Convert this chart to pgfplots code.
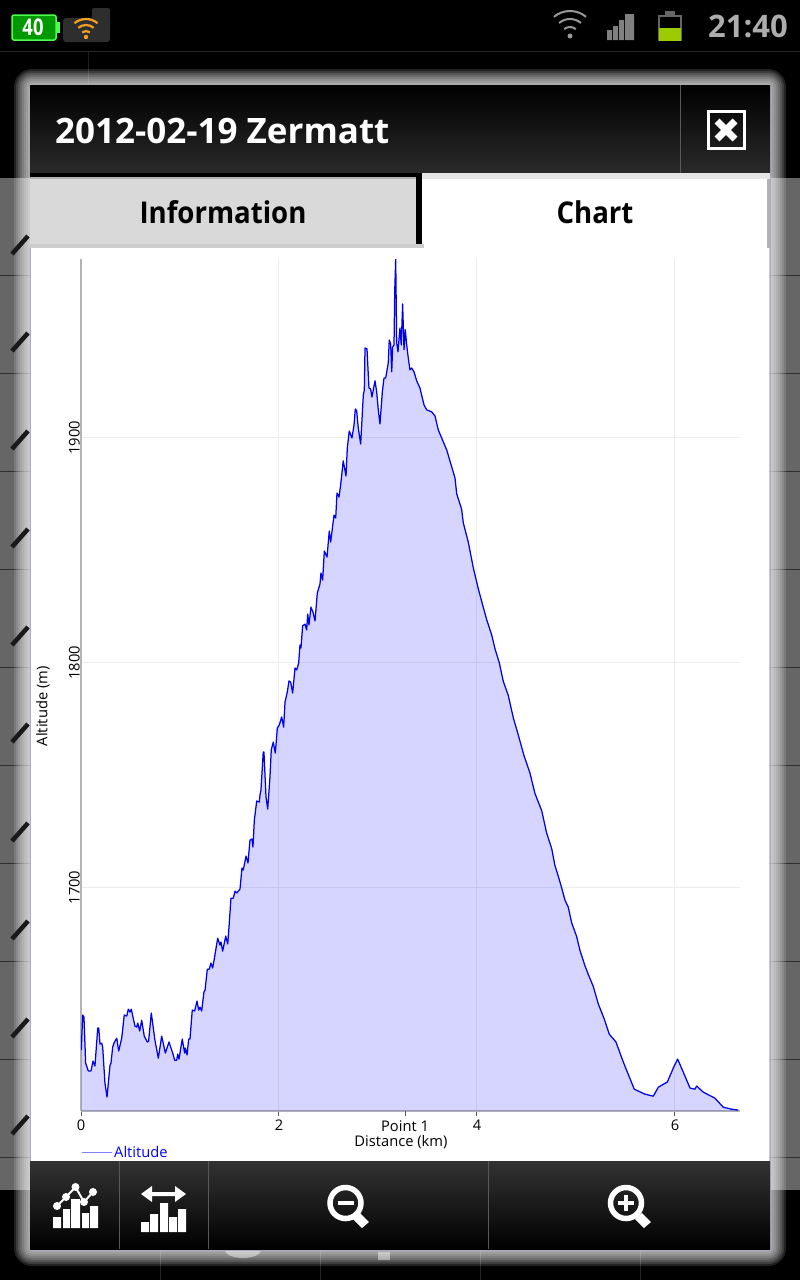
\documentclass[border=0pt]{standalone}
\usepackage{fontspec}
\setmainfont{Open Sans}
\usepackage{pgfplots}
\usepackage{pgfplotstable}
\pgfplotsset{compat=1.18}
\definecolor{axisgray}{HTML}{B4B4B4}
\definecolor{gridgray}{HTML}{EDEDED}
\definecolor{dimbg}{HTML}{666666}
\definecolor{dlgborder}{HTML}{A9ABC4}
\definecolor{lime}{HTML}{9CCB00}
\definecolor{wifiorange}{HTML}{F5A020}
\pgfplotstableread{
km alt
0.003 1627.7
0.017 1643.3
0.030 1642.4
0.047 1621.9
0.074 1618.4
0.101 1618.4
0.121 1622.8
0.141 1620.6
0.169 1637.5
0.179 1637.5
0.192 1630.4
0.209 1630.8
0.219 1629.0
0.242 1613.0
0.263 1606.8
0.276 1613.0
0.293 1621.0
0.303 1621.9
0.320 1629.0
0.333 1630.8
0.361 1633.0
0.381 1627.3
0.411 1633.0
0.437 1643.3
0.462 1642.8
0.478 1645.9
0.495 1644.6
0.508 1645.9
0.545 1638.4
0.563 1637.9
0.573 1639.7
0.593 1636.2
0.613 1641.0
0.639 1633.9
0.670 1631.3
0.683 1631.7
0.710 1644.2
0.747 1632.1
0.781 1624.1
0.815 1633.9
0.852 1626.4
0.889 1631.3
0.926 1626.4
0.946 1623.2
0.967 1623.2
0.977 1625.9
0.990 1623.7
1.023 1632.6
1.047 1626.4
1.054 1628.6
1.071 1625.5
1.088 1632.6
1.101 1632.6
1.124 1645.5
1.148 1645.1
1.172 1649.5
1.189 1645.5
1.202 1646.8
1.219 1645.1
1.242 1653.5
1.253 1654.4
1.276 1663.7
1.296 1663.7
1.313 1666.4
1.330 1664.2
1.346 1668.2
1.381 1677.5
1.404 1674.4
1.414 1675.8
1.431 1671.7
1.462 1678.4
1.482 1674.9
1.495 1682.4
1.515 1695.3
1.538 1695.3
1.556 1698.4
1.573 1697.6
1.606 1699.3
1.626 1708.7
1.639 1707.8
1.667 1714.0
1.687 1710.9
1.707 1721.1
1.727 1721.6
1.737 1718.0
1.751 1730.0
1.775 1738.5
1.801 1738.0
1.808 1741.2
1.818 1743.4
1.841 1760.3
1.848 1760.3
1.869 1740.3
1.886 1734.9
1.909 1749.2
1.922 1761.2
1.942 1764.7
1.963 1759.8
1.983 1771.0
2.003 1772.3
2.027 1775.9
2.047 1771.4
2.061 1782.5
2.084 1787.0
2.101 1791.9
2.118 1791.4
2.138 1786.5
2.162 1797.7
2.179 1796.8
2.199 1799.9
2.212 1807.9
2.222 1806.6
2.239 1816.4
2.263 1817.2
2.280 1814.6
2.290 1821.7
2.303 1816.8
2.323 1824.8
2.346 1822.1
2.364 1818.6
2.387 1831.0
2.414 1835.0
2.424 1839.9
2.441 1836.8
2.458 1849.7
2.485 1847.0
2.508 1858.6
2.522 1853.7
2.556 1865.7
2.573 1864.4
2.586 1875.5
2.606 1873.7
2.623 1879.1
2.649 1889.8
2.677 1883.1
2.690 1895.5
2.710 1903.1
2.737 1900.0
2.758 1905.8
2.771 1912.9
2.785 1912.0
2.801 1904.4
2.825 1897.3
2.852 1919.1
2.862 1921.4
2.869 1940.0
2.889 1939.6
2.909 1922.2
2.926 1921.8
2.939 1918.2
2.970 1925.4
2.987 1920.5
3.003 1912.5
3.020 1906.2
3.044 1920.5
3.061 1926.7
3.078 1926.7
3.104 1933.4
3.114 1943.6
3.128 1941.8
3.139 1929.4
3.148 1940.5
3.162 1941.4
3.169 1965.0
3.179 1979.6
3.189 1942.3
3.202 1938.3
3.222 1948.9
3.235 1941.4
3.249 1959.6
3.263 1939.2
3.276 1948.1
3.290 1941.4
3.306 1935.6
3.323 1930.3
3.340 1931.1
3.364 1929.4
3.391 1925.4
3.424 1922.2
3.465 1914.7
3.492 1912.5
3.542 1911.6
3.576 1909.8
3.609 1903.6
3.694 1894.7
3.778 1882.2
3.795 1875.2
3.845 1868.3
3.862 1862.2
3.912 1853.7
3.963 1842.2
4.013 1833.0
4.064 1824.6
4.098 1819.2
4.149 1812.3
4.182 1806.2
4.225 1800.1
4.266 1791.7
4.316 1785.5
4.367 1775.5
4.417 1767.9
4.475 1758.7
4.535 1751.0
4.586 1741.8
4.654 1734.2
4.704 1724.2
4.755 1717.3
4.788 1709.7
4.821 1705.1
4.856 1699.8
4.889 1694.4
4.922 1691.3
4.956 1684.4
5.007 1678.2
5.040 1672.1
5.091 1665.2
5.124 1661.4
5.175 1656.0
5.225 1648.3
5.286 1641.5
5.336 1634.8
5.404 1631.3
5.478 1622.4
5.589 1610.3
5.697 1608.1
5.781 1607.2
5.832 1611.2
5.923 1613.5
5.983 1619.7
6.027 1623.7
6.084 1617.9
6.152 1610.8
6.202 1610.3
6.219 1611.7
6.286 1609.0
6.404 1606.3
6.488 1602.3
6.573 1601.4
6.639 1601.0
}\altdata
\begin{document}
\begin{tikzpicture}[x=1pt,y=-1pt]
\useasboundingbox (0,0) rectangle (800,1280);
% background
\fill[black] (0,0) rectangle (800,1280);
\fill[dimbg] (0,178) rectangle (800,1190);
\foreach \yy in {275,373,471,569,667,765,863,961,1059,1157}
  \draw[black!55!dimbg,line width=.6pt] (0,\yy) -- (800,\yy);
\draw[white!15!black,line width=.6pt] (0,51) -- (800,51);
\draw[white!12!black,line width=.6pt] (88,51) -- (88,85);
\foreach \xx in {160,320,480,640}
  \draw[white!15!black,line width=.6pt] (\xx,1250) -- (\xx,1280);
\fill[white!45!black] (378,1252) rectangle (390,1260);
\fill[white!45!black] (225,1250) arc[start angle=180,end angle=0,x radius=18,y radius=8] -- cycle;
% glow
\foreach \d in {16,14,12,10,8,6,4,2}
  \fill[white,opacity=.13,rounded corners=\d+2] (30-\d,85-\d) rectangle (770+\d,1250+\d);
\foreach \yy in {245,342,440,538,636,733,832,930,1028,1125}
  \draw[black!90,line width=4.5pt] (12,\yy+9) -- (28,\yy-9);
% status bar
\fill[black] (0,0) rectangle (800,50);
\fill[green!60!black,draw=green!70!white,line width=1.5pt,rounded corners=2pt] (12,15) rectangle (56,40);
\fill[green!70!white] (56,22) rectangle (60,33);
\node[white,font=\bfseries\fontsize{23}{25}\selectfont,xscale=.8] at (33,27) {40};
\fill[black!82,rounded corners=3pt] (63,18) rectangle (110,42);
\fill[black!82,rounded corners=2pt] (92,8) rectangle (110,25);
\foreach \r in {6,12,18}
  \draw[wifiorange,line width=2.2pt] (86,37) ++(-50:\r) arc[start angle=-50,end angle=-130,radius=\r];
\fill[wifiorange] (86,37) circle (2.2);
\foreach \r in {9,17,25}
  \draw[black!40,line width=2pt] (570,36) ++(-50:\r) arc[start angle=-50,end angle=-130,radius=\r];
\fill[black!40] (570,36) circle (2.5);
\fill[black!50] (607,30) rectangle (612,40) (613,26) rectangle (618,40) (619,20) rectangle (624,40) (625,14) rectangle (634,40);
\draw[black!60,line width=1.2pt] (659,16) rectangle (681,40);
\fill[black!60] (665,11) rectangle (675,15);
\fill[lime] (659,28) rectangle (681,41);
\node[black!32,font=\bfseries\fontsize{31}{33}\selectfont,anchor=east,inner sep=0pt] at (788,26) {21:40};
% dialog
\draw[dlgborder,line width=1pt] (30,85) rectangle (770,1250);
\shade[top color=black,bottom color=white!17!black] (30,85) rectangle (770,175);
\draw[white!35!black,line width=.7pt] (680.5,85) -- (680.5,175);
\node[white,font=\bfseries\fontsize{35}{38}\selectfont,anchor=west,inner sep=0pt] at (55,131) {2012-02-19 Zermatt};
\draw[white,line width=3pt] (708,111) rectangle (744,148);
\draw[white,line width=7pt] (717,121) -- (735,139) (735,121) -- (717,139);
% tabs
\fill[black] (30,173) rectangle (422,248);
\fill[white!85!black] (30,178) rectangle (416,244);
\draw[white!70!black,line width=1.5pt] (30,178) -- (416,178);
\fill[white] (422,173) rectangle (770,248);
\fill[white!90!black] (422,173) rectangle (770,179);
\fill[white!70!black] (767,179) rectangle (770,248);
\fill[white!80!black] (30,244) rectangle (424,248);
\node[black,font=\bfseries\fontsize{30}{32}\selectfont,xscale=.92] at (223,212) {Information};
\node[black,font=\bfseries\fontsize{30}{32}\selectfont,xscale=.92] at (595,212) {Chart};
% chart area
\fill[white] (31,248) rectangle (769,1161);
% toolbar
\shade[top color=white!20!black,bottom color=black] (30,1161) rectangle (770,1249);
\draw[white!35!black,line width=.7pt] (119,1161) -- (119,1249) (208,1161) -- (208,1249) (488,1161) -- (488,1249);
\fill[white] (53,1217) rectangle (61,1228) (63,1209) rectangle (70,1228) (71,1199) rectangle (80,1228) (82,1213) rectangle (89,1228) (90,1206) rectangle (98,1228);
\draw[white,line width=2pt] (57,1206) -- (66,1197) -- (75.5,1187) -- (84,1202) -- (93,1192);
\foreach \px/\py in {57/1206,66/1197,75.5/1187,84/1202,93/1192} \fill[white] (\px,\py) circle (4);
\fill[white] (141,1222) rectangle (149,1232) (150,1214) rectangle (158,1232) (160,1203) rectangle (168,1232) (169,1217) rectangle (177,1232) (178,1209) rectangle (186,1232);
\fill[white] (141,1194) -- (152,1186) -- (152,1192) -- (175,1192) -- (175,1186) -- (186,1194) -- (175,1202) -- (175,1196) -- (152,1196) -- (152,1202) -- cycle;
\foreach \cx/\hx in {345.5/362,626/644}{
  \draw[white,line width=5.5pt] (\cx,1203) circle (15.5);
  \fill[white] (\hx-2,1213) -- (\hx+7,1222) -- (\hx,1228) -- (\hx-9,1219) -- cycle;
  \draw[white,line width=4pt] (\cx-8,1203) -- (\cx+8,1203);
}
\draw[white,line width=4pt] (626,1195) -- (626,1211);
% chart
\begin{axis}[
  at={(81pt,-1111pt)},anchor=south west,
  width=659pt,height=852pt,scale only axis,
  xmin=0,xmax=6.657,ymin=1600.6,ymax=1979.6,
  axis lines*=left,
  axis line style={draw=axisgray,line width=1.8pt,-},
  xtick={0,2,4,6},ytick={1700,1800,1900},
  extra x ticks={3.273},extra x tick labels={Point 1},
  extra x tick style={grid=none},
  grid=major,grid style={draw=gridgray,line width=1pt},
  tick align=outside,
  major tick length=5pt,
  x tick style={draw=black!65,line width=1pt},
  y tick style={draw=none},
  tick label style={font=\fontsize{14.7}{16}\selectfont,text=black},
  /pgf/number format/assume math mode=true,
  /pgf/number format/1000 sep={},
  yticklabel style={rotate=90,anchor=south,inner sep=0pt,yshift=-4pt},
  xticklabel style={anchor=north,inner sep=0pt,yshift=-4pt},
  xlabel={Distance (km)},ylabel={Altitude (m)},
  label style={font=\fontsize{14.7}{16}\selectfont,text=black},
  xlabel style={at={(axis description cs:0.4855,0)},anchor=north,inner sep=0pt,yshift=-24pt},
  ylabel style={at={(axis description cs:0,0.475)},anchor=south,inner sep=0pt,yshift=31pt},
  legend style={at={(axis description cs:0,0)},anchor=north west,draw=none,fill=none,
    inner sep=0pt,outer sep=0pt,yshift=-33pt,font=\fontsize{14.7}{16}\selectfont,text=blue,
    /tikz/every even column/.append style={column sep=3pt}},
  legend image code/.code={\draw[draw=blue!50!white,line width=1.2pt] (0pt,0pt) -- (30pt,0pt);},
]
\addplot[draw=none,fill=blue,fill opacity=.165,forget plot] table[x=km,y=alt] {\altdata} \closedcycle;
\addplot[draw=blue!92!black,line width=1.25pt,line join=round] table[x=km,y=alt] {\altdata};
\addlegendentry{Altitude}
\end{axis}
\end{tikzpicture}
\end{document}
